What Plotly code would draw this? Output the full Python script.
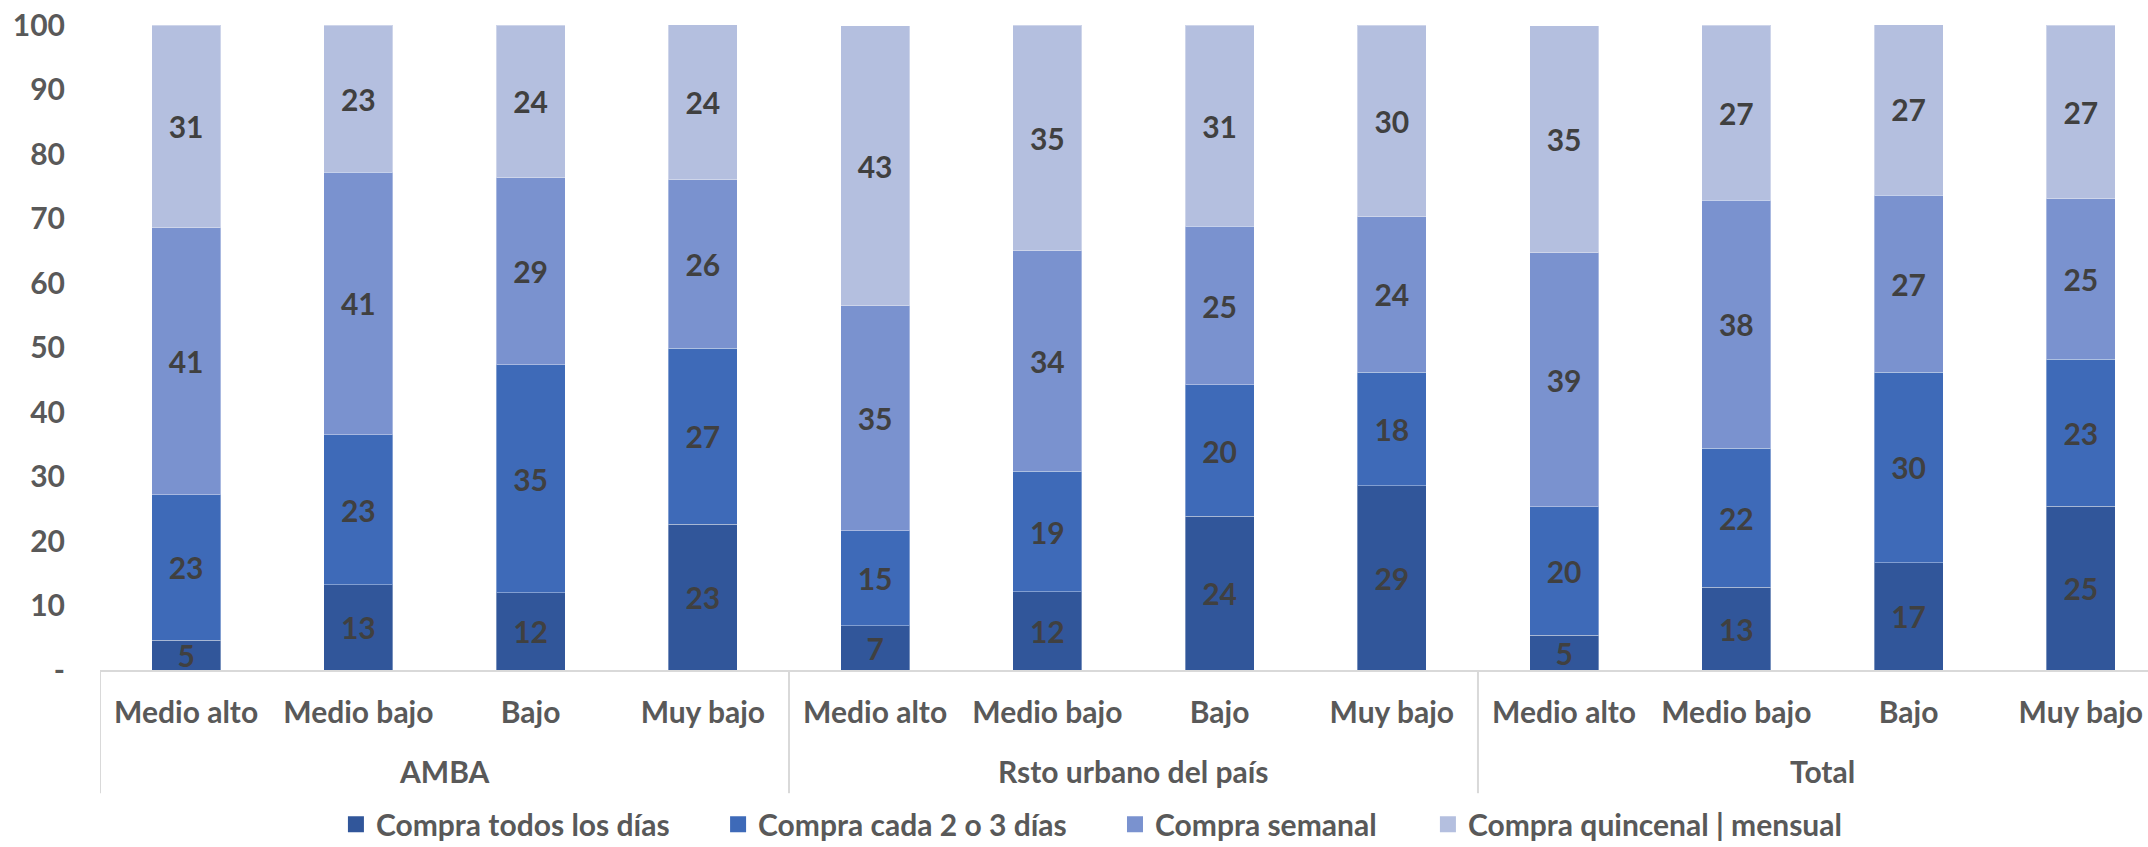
import plotly.graph_objects as go

groups = ["AMBA", "Rsto urbano del país", "Total"]
levels = ["Medio alto", "Medio bajo", "Bajo", "Muy bajo"]

series_names = ["Compra todos los días", "Compra cada 2 o 3 días",
                "Compra semanal", "Compra quincenal | mensual"]

todos_los_dias = [4.6, 13.2, 12.0, 22.6, 6.9, 12.1, 23.8, 28.6, 5.4, 12.8, 16.6, 25.4]
cada_2_3_dias = [22.6, 23.3, 35.3, 27.3, 14.7, 18.7, 20.4, 17.6, 19.9, 21.6, 29.6, 22.8]
semanal = [41.4, 40.7, 29.0, 26.1, 34.9, 34.2, 24.6, 24.1, 39.4, 38.4, 27.4, 24.9]
quincenal_mensual = [31.4, 22.8, 23.7, 24.1, 43.4, 35.0, 31.2, 29.7, 35.2, 27.2, 26.6, 26.9]

y_tickvals = [0, 10, 20, 30, 40, 50, 60, 70, 80, 90, 100]
y_ticktext = ["-", "10", "20", "30", "40", "50", "60", "70", "80", "90", "100"]

colors = ["#31569A", "#3E6AB8", "#7A92CF", "#B4BFDF"]
FONT = "Lato"
GRAY = "#595959"
FS = 30

xpos = list(range(len(groups) * len(levels)))
cat_labels = levels * len(groups)

legend_ids = ["legend", "legend2", "legend3", "legend4"]
legend_x = [0.1152, 0.3018, 0.4956, 0.6484]

fig = go.Figure()
for name, vals, col, lid in zip(series_names,
                                [todos_los_dias, cada_2_3_dias, semanal, quincenal_mensual],
                                colors, legend_ids):
    fig.add_trace(go.Bar(
        x=xpos, y=vals, name=name,
        marker=dict(color=col, line=dict(color="rgba(255,255,255,0.35)", width=1)),
        width=0.4,
        texttemplate="%{y:.0f}",
        textposition="inside",
        insidetextanchor="middle",
        textangle=0,
        textfont=dict(family=FONT, size=FS, color="#404040", weight="bold"),
        hoverinfo="skip",
        showlegend=False,
    ))
    # legend entry with a larger square swatch
    fig.add_trace(go.Scatter(
        x=[None], y=[None], mode="markers", name=name,
        marker=dict(symbol="square", size=17, color=col),
        legend=lid, showlegend=True, hoverinfo="skip",
    ))

# group labels
for gi, g in enumerate(groups):
    fig.add_annotation(x=gi * 4 + 1.5, y=-0.157, xref="x", yref="paper",
                       text=g, showarrow=False, yanchor="middle",
                       font=dict(family=FONT, size=FS, color=GRAY, weight="bold"))

# divider lines
for b in [-0.5, 3.5, 7.5]:
    fig.add_shape(type="line", xref="x", yref="paper", x0=b, x1=b, y0=0, y1=-0.191,
                  line=dict(color="#D9D9D9", width=2))

legend_common = dict(orientation="h", xanchor="left", y=-0.239, yanchor="middle",
                     font=dict(family=FONT, size=FS, color=GRAY, weight="bold"),
                     itemwidth=30, bgcolor="rgba(0,0,0,0)", borderwidth=0)

layout_legends = {lid: dict(x=lx, **legend_common) for lid, lx in zip(legend_ids, legend_x)}

fig.update_layout(
    width=2148, height=847,
    margin=dict(l=100, r=0, t=25, b=177, autoexpand=False),
    barmode="stack",
    plot_bgcolor="white", paper_bgcolor="white",
    uniformtext=dict(mode="show", minsize=FS),
    font=dict(family=FONT, color=GRAY),
    xaxis=dict(range=[-0.5, 11.39], tickvals=xpos, ticktext=cat_labels,
               showgrid=False, zeroline=False, showline=True, linecolor="#D9D9D9",
               linewidth=2, ticks="", ticklabelstandoff=15, automargin=False,
               ticklabeloverflow="allow",
               tickfont=dict(family=FONT, size=FS, color=GRAY, weight="bold")),
    yaxis=dict(range=[0, 100], tickvals=y_tickvals, ticktext=y_ticktext,
               showgrid=False, zeroline=False, showline=False, ticks="",
               ticklabelstandoff=34, automargin=False, ticklabeloverflow="allow",
               tickfont=dict(family=FONT, size=FS, color=GRAY, weight="bold")),
    **layout_legends,
)

fig.write_html(
    "out.html",
    config={"displayModeBar": False},
    post_script="document.body.style.margin='0px';document.body.style.overflow='hidden';",
)
